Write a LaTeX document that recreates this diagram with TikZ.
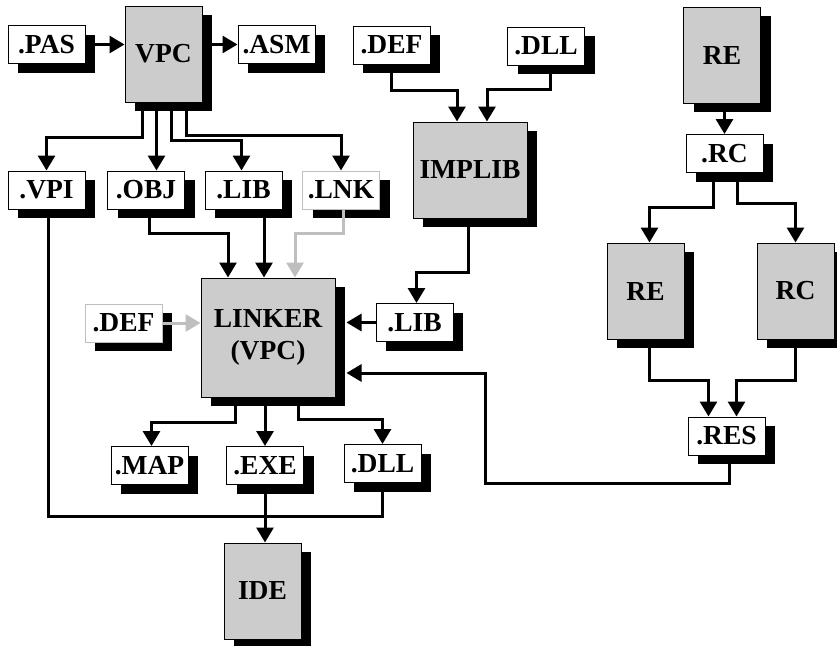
\documentclass[tikz,border=0pt]{standalone}
\usepackage{fontspec}
\setmainfont{Liberation Serif}
\usetikzlibrary{arrows.meta,calc,shadows}
\newcommand{\boxfont}{\fontsize{27.5}{32}\selectfont\bfseries}

\begin{document}
\begin{tikzpicture}[
    x=1pt, y=-1pt,
    filebox/.style={draw=#1, fill=white, line width=1pt,
                    minimum width=77pt, minimum height=38pt, inner sep=0pt,
                    font=\boxfont,
                    drop shadow={shadow xshift=10pt, shadow yshift=-9pt,
                                 fill=black, opacity=1}},
    filebox/.default=black,
    toolbox/.style={filebox, fill=black!20, minimum height=96pt,
                    align=center},
    arr/.style={-{Triangle[length=15pt,width=17pt]}, line width=3pt},
    garr/.style={arr, black!25}
  ]
    \useasboundingbox (0,0) rectangle (837,645);

    % Compiler
    \node[toolbox]         (vpc)    at (163.5,54)    {VPC};
    \node[filebox]         (pas)    at (46.5,44.5)   {.PAS};
    \node[filebox]         (asm)    at (276.5,44.5)  {.ASM};

    % Import library
    \node[filebox]         (defa)   at (391.5,45)    {.DEF};
    \node[filebox]         (dlla)   at (546,46)      {.DLL};
    \node[toolbox, minimum width=114pt] (implib) at (470,170) {IMPLIB};

    % Resources
    \node[toolbox]         (rea)    at (722,55)      {RE};
    \node[filebox]         (rc)     at (724.5,153.5) {.RC};
    \node[toolbox]         (reb)    at (645.5,291)   {RE};
    \node[toolbox]         (rcb)    at (795.5,291)   {RC};
    \node[filebox]         (res)    at (726.5,436)   {.RES};

    % Compiler output
    \node[filebox]         (vpi)    at (46.5,190)    {.VPI};
    \node[filebox]         (obj)    at (146,190)     {.OBJ};
    \node[filebox]         (lib)    at (243.5,190)   {.LIB};
    \node[filebox=black!25] (lnk)   at (341,190)     {.LNK};

    % Linker
    \node[toolbox, minimum width=134pt, minimum height=119pt]
      (linker) at (268,337.5) {LINKER\\(VPC)};
    \node[filebox=black!25] (defb)  at (123.5,323)   {.DEF};
    \node[filebox]         (libb)   at (414.5,322.5) {.LIB};

    % Linker output
    \node[filebox]         (map)    at (149.5,465.5) {.MAP};
    \node[filebox]         (exe)    at (265,465.5)   {.EXE};
    \node[filebox]         (dllb)   at (382.5,463.5) {.DLL};
    \node[toolbox]         (ide)    at (262.5,591)   {IDE};

    \coordinate (resbend) at (485,373);

    % Compiler arrows
    \draw[arr] (pas.east) -- (pas.east -| vpc.west);
    \draw[arr] (asm.west -| vpc.east) -- (asm.west);
    \draw[arr] ([xshift=-21pt]vpc.south) -- ++(0,35) -| (vpi.north);
    \draw[arr] ([xshift=-7pt]vpc.south) -- ([xshift=-7pt]vpc.south |- obj.north);
    \draw[arr] ([xshift=8pt]vpc.south) -- ++(0,38) -| ([xshift=-2pt]lib.north);
    \draw[arr] ([xshift=23pt]vpc.south) -- ++(0,33) -| (lnk.north);

    % Import library arrows
    \draw[arr] (defa.south) -- ++(0,26) -| ([xshift=-13pt]implib.north);
    \draw[arr] ([xshift=4pt]dlla.south) -- ++(0,24) -| ([xshift=17pt]implib.north);
    \draw[arr] ([xshift=-2pt]implib.south) -- ++(0,54) -| ([xshift=2pt]libb.north);

    % Resource arrows
    \draw[arr] (rc.north |- rea.south) -- (rc.north);
    \draw[arr] ([xshift=-11pt]rc.south) -- ++(0,34) -| ([xshift=4pt]reb.north);
    \draw[arr] ([xshift=13pt]rc.south) -- ++(0,30) -| (rcb.north);
    \draw[arr] ([xshift=4pt]reb.south) -- ++(0,41) -| ([xshift=-18pt]res.north);
    \draw[arr] (rcb.south) -- ++(0,41) -| ([xshift=10pt]res.north);
    \draw[arr] ([xshift=3pt]res.south) -- ++(0,28) -| (resbend)
      -- ($(resbend -| linker.east)+(11,0)$);

    % Linker inputs
    \draw[arr] ([xshift=3pt]obj.south) -- ++(0,24) -| ([xshift=-40pt]linker.north);
    \draw[arr] ([xshift=-4pt]linker.north |- lib.south) -- ([xshift=-4pt]linker.north);
    \draw[garr] ([xshift=2pt]lnk.south) -- ++(0,24) -| ([xshift=27pt]linker.north);
    \draw[garr] (defb.east) -- (defb.east -| linker.west);
    \draw[arr] (libb.west) -- ($(libb.west -| linker.east)+(11,0)$);

    % Linker outputs
    \draw[arr] ([xshift=-33pt]linker.south) -- ++(0,25) -| ([xshift=2pt]map.north);
    \draw[arr] (exe.north |- linker.south) -- (exe.north);
    \draw[arr] ([xshift=30pt]linker.south) -- ++(0,22) -| (dllb.north);
    \draw[arr] (exe.south) -- (exe.south |- ide.north);
    \draw[line width=3pt] ([xshift=1.5pt]vpi.south) -- ++(0,307) -| (dllb.south);
  \end{tikzpicture}
\end{document}
